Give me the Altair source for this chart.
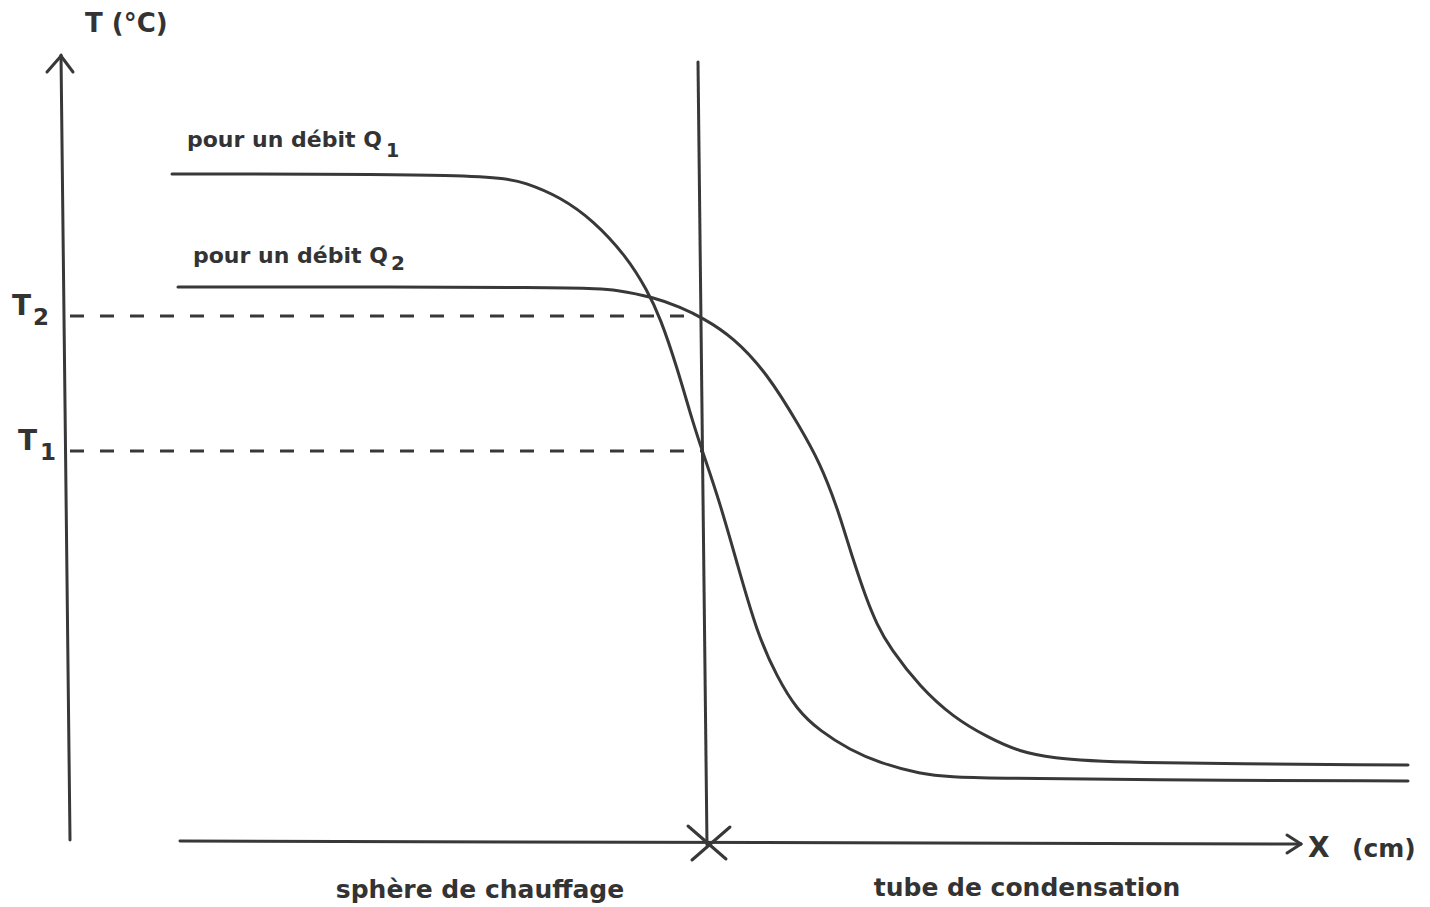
import altair as alt
import pandas as pd

# ---- data (x in cm, T in °C, schematic units) ----
q1_x = [10.2, 42.2, 45.7, 49.0, 52.3, 55.7, 57.7, 59.0, 60.7, 62.3, 63.3, 65.0, 66.7, 68.7,
        70.7, 72.7, 75.0, 78.0, 81.0, 85.0, 88.3, 91.7, 107.0, 133.8]
q1_t = [66.8, 66.8, 65.9, 64.5, 62.2, 58.5, 55.2, 52.5, 47.5, 41.9, 38.9, 33.9, 27.9, 20.9,
        16.5, 13.2, 11.1, 9.2, 7.9, 6.8, 6.5, 6.4, 6.2, 6.1]
q2_x = [10.8, 51.7, 54.7, 58.3, 61.0, 63.3, 66.3, 69.7, 73.0, 75.0, 76.7, 77.7, 78.5, 79.5,
        80.7, 82.0, 85.0, 88.3, 91.7, 95.0, 98.3, 103.3, 133.8]
q2_t = [55.5, 55.5, 55.2, 54.5, 53.5, 52.4, 50.5, 46.9, 41.5, 37.9, 33.5, 30.2, 27.7, 24.7,
        21.7, 19.4, 15.5, 12.5, 10.5, 9.0, 8.4, 7.9, 7.7]

T1 = 39.1
T2 = 52.6
x_sep = 63.0

# axis / arrow / separator segments: (x, y, x2, y2)
seg_x = [-0.9, -0.9, -0.9, 11.0, 123.1, 123.1, 62.8, 61.8, 66.0]
seg_y = [78.7, 78.6, 78.6, 0.1, -0.2, -0.2, 78.0, 1.6, 1.5]
seg_x2 = [0.0, -2.3, 0.3, 123.1, 121.7, 121.7, 63.7, 65.6, 62.2]
seg_y2 = [0.2, 77.0, 77.0, -0.2, 0.7, -1.1, -0.3, -1.7, -1.8]

# dashed reference lines
dash_y = [T2, T1]
dash_x = [0.0, 0.0]
dash_x2 = [x_sep, x_sep + 0.4]

# labels
lab_text = ["T (°C)", "pour un débit Q", "1", "pour un débit Q", "2",
            "T", "2", "T", "1", "X", "(cm)"]
lab_x = [1.5, 11.7, 31.6, 12.3, 32.1, -5.8, -3.7, -5.2, -3.0, 123.8, 128.2]
lab_y = [81.0, 69.5, 68.5, 57.9, 57.2, 52.7, 51.7, 39.2, 38.2, -1.5, -1.5]
lab_fs = [26, 22, 19, 22, 20, 28, 23, 28, 23, 28, 25]

bot_text = ["sphère de chauffage", "tube de condensation"]
bot_x = [41.0, 95.7]
bot_y = [-5.6, -5.4]

# ---- tables ----
curves = pd.DataFrame({
    "x": q1_x + q2_x,
    "T": q1_t + q2_t,
    "serie": ["Q1"] * len(q1_x) + ["Q2"] * len(q2_x),
    "o": list(range(len(q1_x))) + list(range(len(q2_x))),
})
segs = pd.DataFrame({"x": seg_x, "y": seg_y, "x2": seg_x2, "y2": seg_y2})
dashes = pd.DataFrame({"x": dash_x, "x2": dash_x2, "y": dash_y})
labels = pd.DataFrame({"t": lab_text, "x": lab_x, "y": lab_y, "fs": lab_fs})
bottoms = pd.DataFrame({"t": bot_text, "x": bot_x, "y": bot_y})

xs = alt.Scale(domain=[-5.4, 135.2], nice=False, zero=False)
ys = alt.Scale(domain=[-5.7, 82.6], nice=False, zero=False)
INK = "#383838"

lines = alt.Chart(curves).mark_line(
    interpolate="basis", strokeWidth=3, color=INK, strokeCap="round"
).encode(
    x=alt.X("x:Q", scale=xs, axis=None),
    y=alt.Y("T:Q", scale=ys, axis=None),
    detail="serie:N",
    order="o:Q",
)

rules = alt.Chart(segs).mark_rule(strokeWidth=3, color=INK, strokeCap="round").encode(
    x=alt.X("x:Q", scale=xs, axis=None),
    y=alt.Y("y:Q", scale=ys, axis=None),
    x2="x2:Q",
    y2="y2:Q",
)

dash = alt.Chart(dashes).mark_rule(strokeWidth=3, color=INK, strokeDash=[14, 16]).encode(
    x=alt.X("x:Q", scale=xs, axis=None),
    x2="x2:Q",
    y=alt.Y("y:Q", scale=ys, axis=None),
)

texts = alt.Chart(labels).mark_text(
    align="left", baseline="alphabetic", font="DejaVu Sans", fontWeight="bold", color="#333333"
).encode(
    x=alt.X("x:Q", scale=xs, axis=None),
    y=alt.Y("y:Q", scale=ys, axis=None),
    text="t:N",
    size=alt.Size("fs:Q", scale=None, legend=None),
)

btexts = alt.Chart(bottoms).mark_text(
    align="center", baseline="alphabetic", font="DejaVu Sans", fontWeight="bold",
    fontSize=25, color="#333333"
).encode(
    x=alt.X("x:Q", scale=xs, axis=None),
    y=alt.Y("y:Q", scale=ys, axis=None),
    text="t:N",
)

chart = alt.layer(dash, lines, rules, texts, btexts).properties(
    width=1406, height=883,
    padding={"left": 8, "top": 8, "right": 0, "bottom": 12},
    autosize=alt.AutoSizeParams(type="none"),
    background="white",
).configure_view(stroke=None)

chart.save("out.html", embed_options={"renderer": "svg", "actions": False})
